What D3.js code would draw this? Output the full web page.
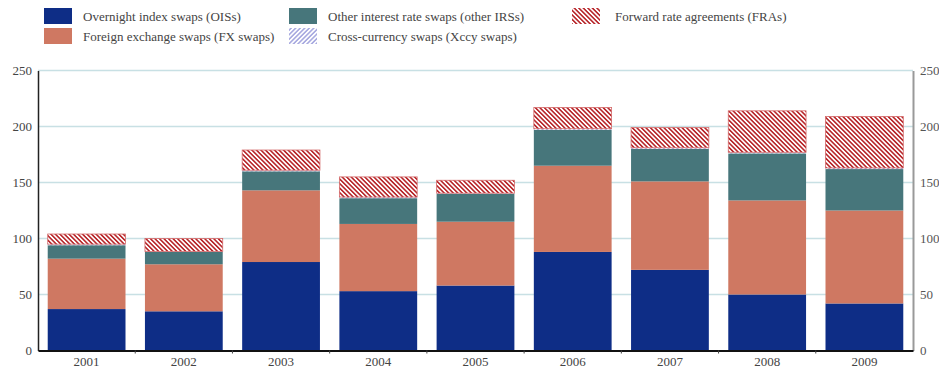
<!DOCTYPE html>
<html>
<head>
<meta charset="utf-8">
<script src="https://cdn.jsdelivr.net/npm/d3@7"></script>
<style>
  body { margin: 0; background: #fff; }
</style>
</head>
<body>
<div id="chart-area"></div>
<script>
const years = ["2001", "2002", "2003", "2004", "2005", "2006", "2007", "2008", "2009"]
const ois = [37, 35, 79, 53, 58, 88, 72, 50, 42]
const fx = [45, 42, 64, 60, 57, 77, 79, 84, 83]
const irs = [12, 11, 17, 23, 25, 32, 29, 42, 37]
const xccy = [1, 0.5, 1, 1, 0.5, 1, 1, 1, 1]
const fra = [9, 11.5, 18, 18, 11.5, 19, 18, 37, 46]
const yTicks = [0, 50, 100, 150, 200, 250]

const W = 939, H = 369
const LEFT = 38, RIGHT = 913, TOP = 70.5, BOTTOM = 350.5
const FONT = "'Liberation Serif', 'Times New Roman', Times, serif"

const svg = d3.select("#chart-area").append("svg")
  .attr("width", W)
  .attr("height", H)
  .style("font-family", FONT)

// hatch patterns
const defs = svg.append("defs")
function hatch(id, color, angle, size, sw) {
  const p = defs.append("pattern")
    .attr("id", id)
    .attr("patternUnits", "userSpaceOnUse")
    .attr("width", size)
    .attr("height", size)
    .attr("patternTransform", `rotate(${angle})`)
  p.append("rect").attr("width", size).attr("height", size).attr("fill", "#fff")
  p.append("line")
    .attr("x1", size / 2).attr("y1", 0)
    .attr("x2", size / 2).attr("y2", size)
    .attr("stroke", color)
    .attr("stroke-width", sw)
}
hatch("fraHatch", "#b8282c", -45, 3.2, 1.6)
hatch("xccyHatch", "#8c8fd6", 45, 3.2, 1.2)

const series = [
  { key: "ois", label: "Overnight index swaps (OISs)", fill: "#0e2d86", values: ois },
  { key: "fx", label: "Foreign exchange swaps (FX swaps)", fill: "#cf7862", values: fx },
  { key: "irs", label: "Other interest rate swaps (other IRSs)", fill: "#47767b", values: irs },
  { key: "xccy", label: "Cross-currency swaps (Xccy swaps)", fill: "url(#xccyHatch)", values: xccy },
  { key: "fra", label: "Forward rate agreements (FRAs)", fill: "url(#fraHatch)", values: fra }
]

const table = years.map((yr, i) => {
  const row = { year: yr }
  series.forEach(s => { row[s.key] = s.values[i] })
  return row
})

const stacked = d3.stack().keys(series.map(s => s.key))(table)

const x = d3.scaleBand()
  .domain(years)
  .range([LEFT, RIGHT])
  .paddingInner(0.2)
  .paddingOuter(0.1)

const y = d3.scaleLinear()
  .domain([0, 250])
  .range([BOTTOM, TOP])

// gridlines
svg.append("g")
  .selectAll("line")
  .data(yTicks.filter(d => d > 0))
  .join("line")
    .attr("x1", LEFT)
    .attr("x2", RIGHT)
    .attr("y1", d => y(d))
    .attr("y2", d => y(d))
    .attr("stroke", "#c8e0e4")
    .attr("stroke-width", 1.5)

// bars
const layers = svg.append("g")
  .selectAll("g")
  .data(stacked)
  .join("g")
    .attr("fill", (d, i) => series[i].fill)

layers.selectAll("rect")
  .data(d => d)
  .join("rect")
    .attr("x", d => x(d.data.year))
    .attr("width", x.bandwidth())
    .attr("y", d => y(d[1]))
    .attr("height", d => y(d[0]) - y(d[1]))

layers.filter(d => d.key === "fra").selectAll("rect")
  .attr("stroke", "#d46a6a")
  .attr("stroke-width", 0.8)

function styleText(sel, color) {
  sel.selectAll("text")
    .attr("font-family", FONT)
    .attr("font-size", "13px")
    .attr("fill", color)
}

// left axis
const yAxisLeft = svg.append("g")
  .attr("transform", `translate(${LEFT}, 0)`)
  .call(d3.axisLeft(y).tickValues(yTicks).tickSize(0).tickPadding(6))
yAxisLeft.attr("font-family", FONT)
yAxisLeft.select(".domain").attr("stroke", "#222").attr("stroke-width", 1.5)
styleText(yAxisLeft, "#444")

// right axis
const yAxisRight = svg.append("g")
  .attr("transform", `translate(${RIGHT}, 0)`)
  .call(d3.axisRight(y).tickValues(yTicks).tickSize(0).tickPadding(7))
yAxisRight.attr("font-family", FONT)
yAxisRight.select(".domain").attr("stroke", "#999").attr("stroke-width", 2)
styleText(yAxisRight, "#555")

// x axis
const xAxis = svg.append("g")
  .attr("transform", `translate(0, ${BOTTOM})`)
  .call(d3.axisBottom(x).tickSize(0).tickPadding(6))
xAxis.attr("font-family", FONT)
xAxis.select(".domain").attr("stroke", "#111").attr("stroke-width", 2)
styleText(xAxis, "#444")

// small ticks between bars
const step = x.step()
xAxis.append("g")
  .selectAll("line")
  .data(years.slice(1))
  .join("line")
    .attr("x1", d => x(d) - step * x.paddingInner() / 2)
    .attr("x2", d => x(d) - step * x.paddingInner() / 2)
    .attr("y1", 0)
    .attr("y2", 3)
    .attr("stroke", "#444")
    .attr("stroke-width", 1)

// legend
const legendPos = [
  { key: "ois", x: 44, y: 8 },
  { key: "fx", x: 44, y: 28 },
  { key: "irs", x: 289, y: 8 },
  { key: "xccy", x: 289, y: 28 },
  { key: "fra", x: 572, y: 8 }
]
const legend = svg.append("g")
  .selectAll("g")
  .data(legendPos)
  .join("g")
    .attr("transform", d => `translate(${d.x}, ${d.y})`)

legend.append("rect")
  .attr("width", 28)
  .attr("height", 16)
  .attr("fill", d => series.find(s => s.key === d.key).fill)

legend.append("text")
  .attr("x", d => d.key === "fra" ? 43 : 39)
  .attr("y", 12.5)
  .attr("font-family", FONT)
  .attr("font-size", "13px")
  .attr("fill", "#444")
  .text(d => series.find(s => s.key === d.key).label)
</script>
</body>
</html>
